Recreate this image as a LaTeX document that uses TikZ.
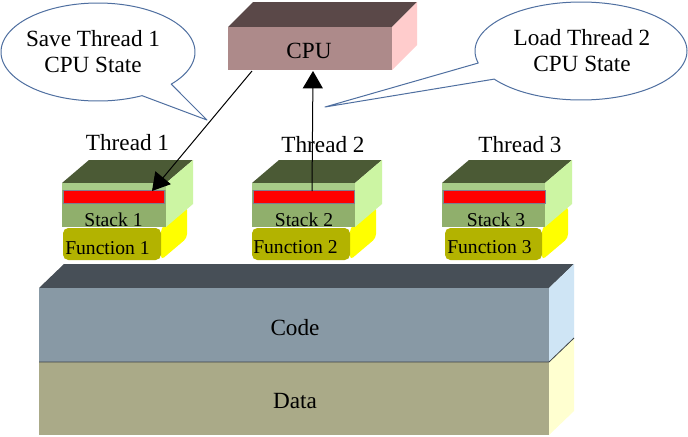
\documentclass[tikz,border=0pt]{standalone}
\usepackage{fontspec}
\setmainfont{Liberation Serif}
\usetikzlibrary{arrows.meta}
\definecolor{cpuF}{HTML}{AD8A8A}
\definecolor{cpuT}{HTML}{5A4848}
\definecolor{cpuS}{HTML}{FFCCCC}
\definecolor{stkF}{HTML}{90AF6C}
\definecolor{stkL}{HTML}{A8CC88}
\definecolor{stkT}{HTML}{4B5A35}
\definecolor{stkS}{HTML}{CCF5A3}
\definecolor{fnF}{HTML}{B3B300}
\definecolor{fnS}{HTML}{FFFF00}
\definecolor{codeF}{HTML}{8899A5}
\definecolor{codeT}{HTML}{474F57}
\definecolor{codeS}{HTML}{CFE5F5}
\definecolor{dataF}{HTML}{AAAA88}
\definecolor{dataS}{HTML}{FFFFD0}
\definecolor{callout}{HTML}{4F6FA0}
\definecolor{barline}{HTML}{7F7F8F}
\newcommand{\drawcube}[9]{%
  \fill[#8] (#1,#2) -- ({#1+#5},{#2-#6}) -- ({#3+#5},{#2-#6}) -- (#3,#2) -- cycle;
  \fill[#9] (#3,#2) -- ({#3+#5},{#2-#6}) -- ({#3+#5},{#4-#6}) -- (#3,#4) -- cycle;
  \fill[#7] (#1,#2) rectangle (#3,#4);}
\newcommand{\drawfunc}[4]{%
  \fill[fnS, rounded corners=3] (#2,#3) -- ({#2+26},{#3-22}) -- ({#2+26},{#4-22}) -- (#2,#4) -- cycle;
  \fill[fnF, rounded corners=4] (#1,#3) rectangle (#2,#4);}
\begin{document}
\begin{tikzpicture}[x=0.75pt,y=-0.75pt,
  big/.style={font=\fontsize{17.4}{19.5}\selectfont, inner sep=0pt},
  small/.style={font=\fontsize{14.7}{16}\selectfont, inner sep=0pt},
  bubble/.style={draw=callout, fill=white, line width=0.75pt, line join=round},
  arr/.style={line width=0.75pt, -{Triangle[length=13pt,width=15pt]}},
  redbar/.style={fill=red, draw=barline, line width=0.6pt}]
\useasboundingbox (0,0) rectangle (688,436);
\fill[white] (0,0) rectangle (688,436);

% callouts
\draw[bubble] plot[domain=63:401, samples=120, smooth] ({98+97*cos(\x)},{52+49*sin(\x)}) -- (207,120) -- cycle;
\draw[bubble] plot[domain=165.8:505, samples=120, smooth] ({581+106*cos(\x)},{51+49*sin(\x)}) -- (325,107) -- cycle;
\node[big, align=center] (save) at (93,52) {Save Thread 1\\CPU State};
\node[big, align=center] (load) at (582,51) {Load Thread 2\\CPU State};

% CPU
\drawcube{228}{27}{392}{70}{25}{25}{cpuF}{cpuT}{cpuS}
\node[big, anchor=base] (cpu) at (309,58) {CPU};

% Function boxes
\drawfunc{63}{161}{228}{260}
\drawfunc{252}{350}{228}{260}
\drawfunc{445}{542}{228}{260}

% Stacks
\drawcube{62}{183}{166}{227}{27}{23}{stkF}{stkT}{stkS}
\drawcube{252}{183}{355}{227}{27}{23}{stkF}{stkT}{stkS}
\drawcube{442}{183}{545}{227}{27}{23}{stkF}{stkT}{stkS}
\fill[stkL] (62,183) rectangle (166,190);
\fill[stkL] (252,183) rectangle (355,190);
\fill[stkL] (442,183) rectangle (545,190);
\draw[redbar] (63,190) rectangle (164,203);
\draw[redbar] (253,190) rectangle (354,203);
\draw[redbar] (443,190) rectangle (545,203);

\node[small, anchor=base] (s1) at (113.5,226) {Stack 1};
\node[small, anchor=base] (s2) at (304,226) {Stack 2};
\node[small, anchor=base] (s3) at (496,226) {Stack 3};
\node[small, anchor=base west] (f1) at (65,254) {Function 1};
\node[small, anchor=base west] (f2) at (253,253) {Function 2};
\node[small, anchor=base west] (f3) at (447,253) {Function 3};

\node[big, anchor=base] (t1) at (127.5,150) {Thread 1};
\node[big, anchor=base] (t2) at (323,152) {Thread 2};
\node[big, anchor=base] (t3) at (520,152) {Thread 3};

% Code / Data
\fill[codeT] (39,288) -- (64,264) -- (574,264) -- (549,288) -- cycle;
\fill[codeS] (549,288) -- (574,264) -- (574,338) -- (549,362) -- cycle;
\fill[dataS] (549,362) -- (574,338) -- (574,411) -- (549,435) -- cycle;
\fill[codeF] (39,288) rectangle (549,362);
\fill[dataF] (39,362) rectangle (549,435);
\draw[color=codeT!80!black, line width=0.6pt] (39,362) -- (549,362) -- (574,338);
\node[big, anchor=base] (code) at (295,335) {Code};
\node[big, anchor=base] (data) at (295,408) {Data};

% arrows
\coordinate (cpuOut) at (252,71);
\coordinate (bar1) at (152,191);
\coordinate (bar2) at (312,191);
\coordinate (cpuIn) at (313,71);
\draw[arr] (cpuOut) -- (bar1);
\draw[arr] (bar2) -- (cpuIn);
\end{tikzpicture}
\end{document}
